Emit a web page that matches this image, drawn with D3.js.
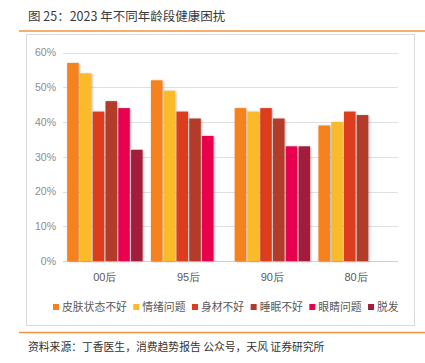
<!DOCTYPE html>
<html><head><meta charset="utf-8">
<script src="https://cdn.jsdelivr.net/npm/d3@7"></script>
<style>body{margin:0;background:#fff;}svg{display:block;font-family:"Noto Sans CJK SC","Noto Sans",sans-serif;}</style>
</head><body>
<script>
const categories = ["00后","95后","90后","80后"];
const seriesNames = ["皮肤状态不好","情绪问题","身材不好","睡眠不好","眼睛问题","脱发"];
const seriesColors = ["#F5821F","#FBBA2B","#DC3C1C","#B23A2A","#E8004F","#A31C3A"];
const values = [
  [57, 52, 44, 39],   // 皮肤状态不好
  [54, 49, 43, 40],   // 情绪问题
  [43, 43, 44, 43],   // 身材不好
  [46, 41, 41, 42],   // 睡眠不好
  [44, 36, 33, null], // 眼睛问题
  [32, null, 33, null] // 脱发
];
const yTicks = [0, 10, 20, 30, 40, 50, 60];
const titleText = "图 25：2023 年不同年龄段健康困扰";
const sourceText = "资料来源：丁香医生，消费趋势报告 公众号，天风 证券研究所";

(function(){
const W = 425, H = 363;
const svg = d3.select("body").append("svg").attr("width", W).attr("height", H);

const defs = svg.append("defs");
const f = defs.append("filter").attr("id","sh").attr("x","-20%").attr("y","-5%").attr("width","150%").attr("height","115%");
f.append("feDropShadow").attr("dx",0.8).attr("dy",0.6).attr("stdDeviation",0.8).attr("flood-color","#000").attr("flood-opacity",0.35);

// title
svg.append("text").attr("x", 28).attr("y", 21).attr("font-size", 12.5).attr("fill", "#3a3a3a").attr("font-weight", 400).text(titleText);
svg.append("line").attr("x1", 19).attr("x2", 425).attr("y1", 31).attr("y2", 31).attr("stroke", "#F5943F").attr("stroke-width", 1.5);
// frame
svg.append("rect").attr("x", 26.5).attr("y", 34.5).attr("width", 388).attr("height", 291).attr("fill", "none").attr("stroke", "#d9d9d9").attr("stroke-width", 1);
svg.append("line").attr("x1", 19).attr("x2", 425).attr("y1", 332.5).attr("y2", 332.5).attr("stroke", "#F5943F").attr("stroke-width", 1.5);
svg.append("text").attr("x", 28).attr("y", 351).attr("font-size", 10.8).attr("fill", "#333").text(sourceText);

const pLeft = 63, pRight = 398, pTop = 52.5, pBottom = 261;
const y = d3.scaleLinear().domain([0, 60]).range([pBottom, pTop]);
const x0 = d3.scaleBand().domain(categories).range([pLeft, pRight]).paddingInner(0.1).paddingOuter(0.05);
const x1 = d3.scaleBand().domain(d3.range(seriesNames.length)).range([0, x0.bandwidth()]).paddingInner(0.1).paddingOuter(0);

// grid
const g = svg.append("g");
g.selectAll("line.grid").data(yTicks).join("line")
  .attr("x1", pLeft).attr("x2", pRight)
  .attr("y1", d => Math.round(y(d)) + 0.5).attr("y2", d => Math.round(y(d)) + 0.5)
  .attr("stroke", d => d === 0 ? "#d0d0d0" : "#e0e0e0").attr("stroke-width", 1);

const yAxis = d3.axisLeft(y).tickValues(yTicks).tickFormat(d => d + "%").tickSize(0).tickPadding(7);
const ya = svg.append("g").attr("transform", `translate(${pLeft},0)`).call(yAxis);
ya.select(".domain").remove();
ya.selectAll("text").attr("font-size", 10.5).attr("fill", "#8c8c8c").attr("font-family", "Liberation Sans, Arial, sans-serif");

const xAxis = d3.axisBottom(x0).tickSize(0).tickPadding(12);
const xa = svg.append("g").attr("transform", `translate(0,${pBottom})`).call(xAxis);
xa.select(".domain").remove();
xa.selectAll("text").attr("font-size", 11).attr("fill", "#595959");

// bars
const barData = [];
values.forEach((arr, si) => arr.forEach((v, ci) => { if (v != null) barData.push({si, ci, v}); }));
svg.append("g").selectAll("rect").data(barData).join("rect")
  .attr("x", d => x0(categories[d.ci]) + x1(d.si))
  .attr("width", x1.bandwidth())
  .attr("y", d => y(d.v))
  .attr("height", d => pBottom - y(d.v))
  .attr("fill", d => seriesColors[d.si])
  .attr("filter", "url(#sh)");

// legend
const legendY = 307;
const lg = svg.append("g");
const fontSize = 10.8;
let lx = 53;
seriesNames.forEach((n, i) => {
  const item = lg.append("g").attr("transform", `translate(${lx},${legendY})`);
  item.append("rect").attr("x", 0).attr("y", -3).attr("width", 6).attr("height", 6).attr("fill", seriesColors[i]);
  const t = item.append("text").attr("x", 9).attr("y", 0).attr("dy", "0.35em").attr("font-size", fontSize).attr("fill", "#595959").text(n);
  lx += 9 + t.node().getComputedTextLength() + 6.5;
});
})();
</script>
</body></html>
